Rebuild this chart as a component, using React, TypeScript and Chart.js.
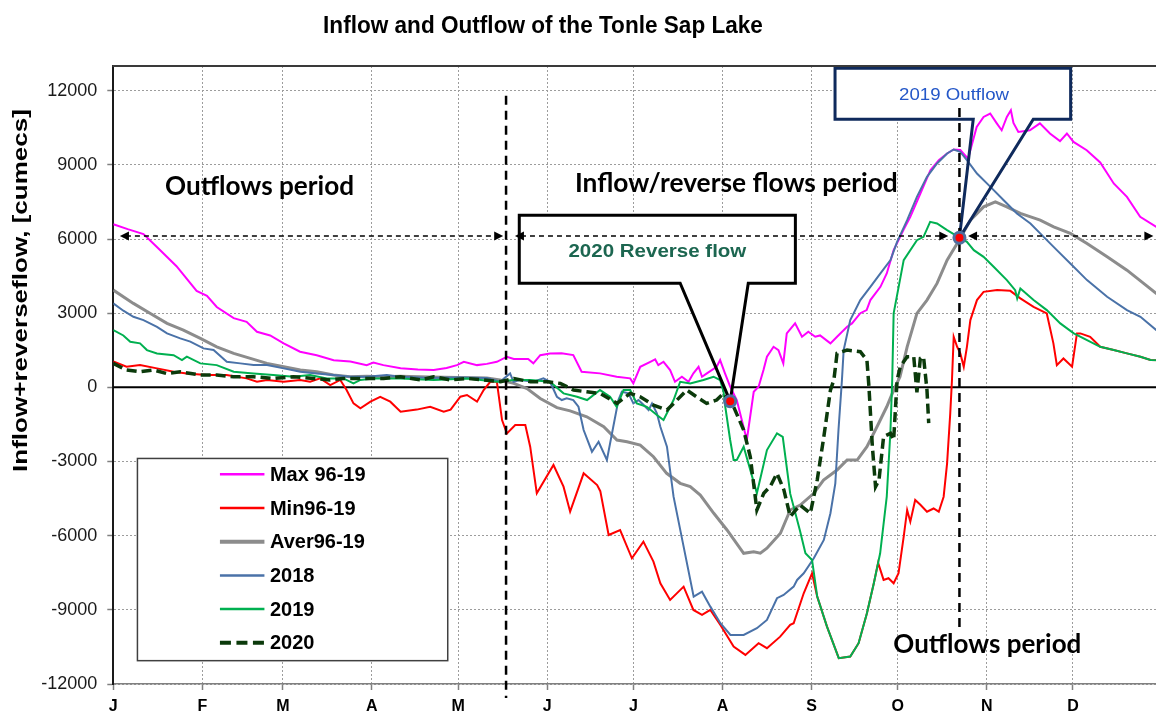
import React, { useEffect, useRef } from "react";
import { Chart, registerables } from "chart.js";

Chart.register(...registerables);

type P = [number, number];

// ---------- axis data ----------
const monthStartDays = [0, 31, 59, 90, 120, 151, 181, 212, 243, 273, 304, 334];
const monthLabels = ["J", "F", "M", "A", "M", "J", "J", "A", "S", "O", "N", "D"];
const yTickValues = [-12000, -9000, -6000, -3000, 0, 3000, 6000, 9000, 12000];
const seriesNames = ["Max 96-19", "Min96-19", "Aver96-19", "2018", "2019", "2020"];

// ---------- series (day of year, cumecs) ----------
const max9619: P[] = [
  [0, 6600], [5, 6400], [10.5, 6200], [15, 5700], [22, 4900], [29, 3900], [32.6, 3700], [36, 3250],
  [41.9, 2800], [46.4, 2650], [50, 2250], [54.6, 2100], [59.3, 1780], [65, 1440], [70.8, 1300],
  [76.7, 1100], [82.5, 1050], [88.2, 900], [90.5, 1000], [94, 900], [100, 770], [106, 720],
  [111.5, 700], [116, 780], [119.6, 900], [122, 1030], [126.6, 900], [130, 950], [133.5, 1035],
  [137, 1240], [139.4, 1150], [144.4, 1150], [146.2, 970], [148.6, 1300], [152, 1374], [156, 1380],
  [160.1, 1306], [163, 630], [169.4, 566], [175.2, 430], [179.9, 364], [181, 160], [183.4, 833],
  [186.9, 1035], [188.6, 1130], [189.7, 900], [191.5, 1035], [193.8, 700], [195.5, 226], [197.9, 430],
  [200.2, 226], [201.9, 566], [203.7, 833], [204.9, 430], [206.6, 566], [210, 833], [211.2, 1104],
  [212.9, 566], [214.7, 27], [217, -513], [220.5, -2130], [222.9, -177], [224.6, 27], [226.3, 700],
  [227.5, 1237], [229.8, 1641], [231.5, 1508], [233.2, 970], [234.4, 2183], [237.3, 2587],
  [239.7, 2046], [241.9, 2248], [244.3, 2046], [246, 2100], [249.6, 1780], [251.9, 2046],
  [255.4, 2450], [257.1, 2587], [260, 3000], [262.2, 3125], [263.5, 3530], [267, 4067], [269.2, 4609],
  [271.6, 5551], [275, 6360], [277.4, 6897], [280.9, 7843], [284.4, 8785], [287.3, 9190],
  [290.2, 9461], [292.5, 9623], [294.8, 9600], [297.5, 9250], [300.5, 10536], [302.9, 10940],
  [305.2, 11077], [307.5, 10680], [309.2, 10400], [311, 10940], [312.4, 11211], [313.3, 10700],
  [315, 10330], [319, 10400], [322.5, 10680], [326, 10270], [329.5, 9960], [331.9, 10270],
  [334.2, 9930], [338.8, 9594], [343.5, 9100], [348.2, 8248], [352.8, 7706], [357.4, 6897],
  [363, 6493], [365, 6400],
];

const min9619: P[] = [
  [0, 1050], [4.6, 833], [9.3, 900], [15.2, 768], [21, 630], [25.6, 560], [32.5, 497], [39.4, 500],
  [46.4, 364], [50, 226], [53.5, 300], [59.3, 230], [65, 300], [68.5, 230], [72, 364], [75.5, 93],
  [79, 300], [81.2, -110], [83.6, -647], [86, -850], [89.5, -580], [92.9, -380], [96.4, -580],
  [100, -985], [105.6, -900], [110.3, -785], [115, -985], [117.4, -900], [120.8, -380], [123.1, -310],
  [126.6, -580], [128.9, -110], [131.2, 226], [133.5, 226], [135.3, -1322], [137, -1860],
  [139.9, -1524], [143.4, -1524], [145.1, -2400], [147.4, -4285], [153.2, -3141], [156.7, -4018],
  [159, -5030], [163.7, -3477], [168.4, -3950], [169.5, -4200], [172.4, -5972], [176.4, -5770],
  [180.5, -6914], [184.5, -6242], [188, -7051], [190.4, -7925], [193.8, -8600], [198.5, -8061],
  [201.9, -9004], [204.9, -9206], [207.8, -9000], [211.3, -9610], [215.9, -10488], [220, -10823],
  [224.6, -10350], [227.5, -10550], [232.1, -10084], [235.6, -9610], [236.8, -9541], [240.3, -8329],
  [243.2, -7520], [245, -8466], [248.4, -9678], [252.5, -10956], [256.5, -10890], [259.4, -10350],
  [262.3, -9137], [264.7, -7925], [266.2, -7100], [268.1, -7790], [269.8, -7720], [271.6, -7925],
  [273.3, -7520], [275.1, -6040], [276.3, -4961], [277.4, -5434], [279.1, -4556], [280.9, -4750],
  [283.2, -5030], [285.5, -4900], [287.3, -5030], [289, -4423], [290.2, -3073], [291.3, -1051],
  [291.9, 295], [292.5, 2046], [293.7, 1641], [294.8, 1374], [296, 833], [297.1, 1641], [298.3, 2721],
  [300.6, 3530], [302.9, 3865], [307.6, 3934], [312.2, 3905], [315.7, 3598], [320.3, 3259],
  [324.9, 2991], [327.2, 1779], [328.4, 900], [330.7, 1170], [333.7, 833], [335.4, 2183],
  [336.6, 2183], [340, 2046], [343.5, 1641], [348.2, 1508], [352.8, 1374], [357.5, 1237],
  [361, 1104], [365, 1100],
];

const aver9619: P[] = [
  [0, 3934], [7, 3396], [12.9, 2991], [18.7, 2587], [24.4, 2317], [30.3, 1981], [36, 1641],
  [41.9, 1374], [47.7, 1170], [53.5, 970], [59.3, 830], [65.1, 700], [70.8, 630], [76.6, 500],
  [82.4, 430], [88.2, 450], [94, 430], [99.8, 450], [110, 420], [120, 400], [130, 380], [134.6, 295],
  [139.4, 160], [144, -50], [148.6, -450], [154.4, -820], [159, -950], [164.8, -1189], [170.7, -1593],
  [175.3, -2130], [178.8, -2200], [183.4, -2333], [188, -2806], [192.6, -3477], [197.3, -3881],
  [200.8, -4018], [204.3, -4354], [209, -5094], [213.6, -5770], [219.4, -6711], [222.9, -6650],
  [225.2, -6711], [227.5, -6509], [232.2, -5903], [235.6, -4961], [239.1, -4760], [243.8, -4285],
  [247.2, -3748], [251.9, -3343], [255.4, -2939], [258.9, -2940], [262.3, -2400], [265.8, -1593],
  [269.2, -785], [271.6, -110], [273.8, 428], [276.3, 1641], [279.7, 2991], [283.2, 3530],
  [286.7, 4205], [290.2, 5147], [293.7, 5822], [298.3, 6764], [302.9, 7302], [307, 7504],
  [311, 7302], [315.7, 7035], [322.6, 6764], [327.3, 6493], [333.1, 6226], [338.9, 5822],
  [345.9, 5280], [352.8, 4742], [358.6, 4205], [363, 3800], [365, 3700],
];

const y2018: P[] = [
  [0, 3396], [3.5, 3100], [7, 2854], [10.5, 2720], [15.2, 2450], [18.7, 2183], [23.3, 1981],
  [26.8, 1850], [31.4, 1577], [34.9, 1510], [39.5, 1035], [44.2, 970], [48.8, 900], [53.5, 900],
  [59.3, 768], [65.1, 630], [70.8, 560], [76.6, 500], [82.4, 430], [88.2, 430], [95.2, 500],
  [99.8, 430], [110, 380], [120, 400], [130, 380], [134.6, 226], [138.1, 566], [139.3, 226],
  [141.6, 300], [146.3, 226], [149.7, 364], [152, 226], [154.4, -380], [156.1, -513], [157.8, -445],
  [160.1, -513], [161.9, -785], [163.7, -1726], [166.6, -2603], [168.9, -2199], [171.8, -2939],
  [175.8, -513], [177, -177], [179.3, -243], [181, -647], [182.8, -513], [184.6, -716], [186.3, -918],
  [187.5, -650], [189.2, -1051], [190.4, -1593], [192.7, -2400], [195, -4423], [198.5, -6444],
  [202, -8466], [204.9, -8264], [207.8, -8870], [211.3, -9541], [214.8, -10015], [219.4, -10015],
  [224, -9743], [227.5, -9408], [231, -8530], [233.3, -8400], [236.8, -8061], [238, -7790],
  [240.3, -7520], [243.8, -6914], [247.3, -6174], [249.6, -5094], [251.3, -3881], [252.4, -1726],
  [253.6, 295], [254.2, 1508], [256.5, 2721], [260, 3530], [263.5, 4067], [267, 4609], [270.5, 5147],
  [272.8, 5887], [276.3, 6764], [279.7, 7706], [283.2, 8515], [286.7, 9056], [290.2, 9461],
  [292.5, 9623], [294.8, 9525], [297.1, 9190], [300.6, 8652], [305.3, 8110], [309.9, 7572],
  [314.5, 7035], [319.2, 6630], [323.8, 6089], [328.4, 5551], [333.1, 5013], [338.9, 4338],
  [345.9, 3663], [352.8, 3125], [357.5, 2854], [363, 2317], [365, 2250],
];

const y2019: P[] = [
  [0, 2317], [3.5, 2100], [5.9, 1843], [9.3, 1780], [11.7, 1508], [15.2, 1374], [21, 1300],
  [23.9, 1100], [25.6, 1240], [30.3, 970], [36, 900], [41.9, 630], [48.8, 560], [55.7, 500],
  [62.7, 430], [68.5, 500], [74.3, 360], [80.1, 360], [83.6, 160], [86, 300], [90.6, 360],
  [99.9, 360], [111.5, 300], [123.2, 360], [133.5, 226], [139.4, 300], [145.2, 300], [152, 226],
  [156.7, -243], [161.4, -380], [164.9, -513], [169.4, -110], [172.9, -380], [175.2, -785],
  [177.6, -110], [179.9, -110], [182.2, -647], [185.7, -785], [189.2, -1120], [191.5, -1322],
  [195, -513], [197.3, 226], [200.8, 160], [205.4, 295], [208.9, 430], [211.2, 295], [212.4, -177],
  [213, -785], [214.7, -2130], [215.9, -2939], [217, -2939], [219.4, -2400], [224, -4285],
  [227.5, -2535], [231, -1860], [233, -2000], [235.6, -4300], [239, -5800], [240.9, -6711],
  [243.2, -6982], [245, -8466], [248.4, -9678], [252.5, -10956], [256.5, -10890], [259.4, -10350],
  [262.3, -9137], [264.7, -7925], [266.9, -6711], [269.2, -4423], [270.5, -1726], [271.1, 295],
  [271.6, 2991], [275.1, 5147], [279.7, 5955], [282, 6089], [284.3, 6695], [286.7, 6630],
  [290.2, 6360], [292.5, 6200], [297.1, 5887], [299.5, 5551], [302.9, 5280], [306.4, 4876],
  [311, 4338], [313.9, 3934], [314.6, 3598], [315.7, 4000], [320.3, 3530], [324.9, 3125],
  [329.6, 2587], [334.3, 2183], [338.9, 1913], [343.5, 1641], [348.2, 1508], [352.8, 1374],
  [357.5, 1237], [361, 1104], [365, 1100],
];

const y2020: P[] = [
  [0, 970], [4.6, 700], [9.3, 630], [14, 700], [18.6, 560], [23.3, 630], [30.3, 500], [36, 500],
  [41.9, 430], [48.8, 430], [55.7, 360], [62.7, 430], [69.6, 360], [75.4, 300], [80.1, 360],
  [87.1, 360], [94.1, 360], [100, 430], [107, 300], [111.5, 430], [117.4, 300], [123.2, 360],
  [129, 300], [134.8, 226], [139.4, 360], [145.2, 226], [151, 226], [155.6, 160], [160.2, -110],
  [164.8, -180], [169.5, -243], [175.3, -647], [179.9, -243], [183.4, -380], [188, -716],
  [192.7, -918], [196.2, -513], [199.6, -110], [203, -380], [206.5, -647], [210, -513],
  [212.4, -243], [214.7, -560], [215.9, -785], [219.4, -1726], [221.7, -2806], [224, -4961],
  [226.4, -4285], [228.7, -4000], [231, -3477], [233.4, -4150], [235.6, -5230], [239, -4758],
  [242.6, -5094], [245, -3748], [247.3, -1997], [249.6, -110], [250.8, 300], [251.9, 1374],
  [255.4, 1508], [260, 1440], [262.3, 1104], [263, 27], [264.2, -2400], [265.3, -4018],
  [266.5, -3750], [268.1, -1997], [270.5, -1860], [271.6, -2130], [272.8, 295], [273.9, 833],
  [276.3, 1237], [278.6, 1237], [279.7, -200], [280.9, 1170], [282, 1237], [283.2, -110],
  [283.8, -1450],
];

// highlighted points: 2020 reverse flow start, 2019 outflow start
const markerPoints: P[] = [[214.7, -560], [294.5, 6050]];

// ---------- annotations (data coordinates) ----------
const dividerDays = [136.7, 294.5];
const arrowLevel = 6120;
const arrowSpans: P[] = [[2.3, 135.7], [139.8, 290.6], [297.5, 362]];

// ---------- styles ----------
const ARIAL = '"Liberation Sans", Arial, Helvetica, sans-serif';
const HUMANIST = 'Lato, "Open Sans", "DejaVu Sans", sans-serif';
const seriesStyles = [
  { color: "#ff00ff", width: 2, dash: [] as number[], legendWidth: 2.5 },
  { color: "#ff0000", width: 2, dash: [] as number[], legendWidth: 2.5 },
  { color: "#8c8c8c", width: 3, dash: [] as number[], legendWidth: 4 },
  { color: "#4a72a8", width: 2, dash: [] as number[], legendWidth: 2.5 },
  { color: "#00b050", width: 2, dash: [] as number[], legendWidth: 2.5 },
  { color: "#0b3a0b", width: 3.5, dash: [10, 5], legendWidth: 4 },
];
const seriesData = [max9619, min9619, aver9619, y2018, y2019, y2020];
const MARKER_INDEX = 6;

const callouts = [
  { d1: 141.3, d2: 237.4, top: 6966, bottom: 4210, b1: 197.3, b2: 221.0, tip: 0, color: "#000000",
    text: "2020 Reverse flow", tDay: 158.4, tVal: 5287, tWidth: 178, tWeight: "bold", tColor: "#1c6650", sy: 0.9 },
  { d1: 251.2, d2: 333.2, top: 12909, bottom: 10845, b1: 299.3, b2: 320.2, tip: 1, color: "#0f2a5c",
    text: "2019 Outflow", tDay: 273.5, tVal: 11626, tWidth: 110, tWeight: "normal", tColor: "#2457c8", sy: 0.88 },
];

const periodTexts = [
  { text: "Outflows period", day: 18.0, value: 7780, width: 189 },
  { text: "Inflow/reverse flows period", day: 160.7, value: 7905, width: 323 },
  { text: "Outflows period", day: 271.5, value: -10757, width: 188 },
];

const legendBox = { d1: 8.4, d2: 116.4, top: -2876, bottom: -11056 };

function setFitFont(ctx: CanvasRenderingContext2D, text: string, weight: string, family: string, width: number) {
  ctx.font = `${weight} 100px ${family}`;
  const w = ctx.measureText(text).width || 1;
  const size = (100 * width) / w;
  ctx.font = `${weight} ${size}px ${family}`;
  return size;
}

function drawFitText(ctx: CanvasRenderingContext2D, text: string, x: number, y: number, width: number,
  weight: string, family: string, color: string, sy = 1, align: CanvasTextAlign = "left") {
  ctx.save();
  setFitFont(ctx, text, weight, family, width);
  ctx.fillStyle = color;
  ctx.textBaseline = "alphabetic";
  ctx.textAlign = align;
  ctx.translate(x, y);
  ctx.scale(1, sy);
  ctx.fillText(text, 0, 0);
  ctx.restore();
}

function arrowHead(ctx: CanvasRenderingContext2D, x: number, y: number, dir: number) {
  ctx.beginPath();
  ctx.moveTo(x, y);
  ctx.lineTo(x - dir * 9, y - 4.5);
  ctx.lineTo(x - dir * 9, y + 4.5);
  ctx.closePath();
  ctx.fill();
}

function calloutPath(ctx: CanvasRenderingContext2D, c: any, xs: any, ys: any) {
  const x1 = xs.getPixelForValue(c.d1), x2 = xs.getPixelForValue(c.d2);
  const y1 = ys.getPixelForValue(c.top), y2 = ys.getPixelForValue(c.bottom);
  const b1 = xs.getPixelForValue(c.b1), b2 = xs.getPixelForValue(c.b2);
  const tp = markerPoints[c.tip];
  const tx = xs.getPixelForValue(tp[0]), ty = ys.getPixelForValue(tp[1]);
  ctx.beginPath();
  ctx.moveTo(x1, y1);
  ctx.lineTo(x2, y1);
  ctx.lineTo(x2, y2);
  ctx.lineTo(b2, y2);
  ctx.lineTo(tx, ty);
  ctx.lineTo(b1, y2);
  ctx.lineTo(x1, y2);
  ctx.closePath();
}

const annotationPlugin = {
  id: "tonleAnnotations",
  beforeDatasetsDraw(chart: any) {
    const { ctx, chartArea: a, scales } = chart;
    const xs = scales.x, ys = scales.y;
    ctx.save();
    ctx.strokeStyle = "#000";
    ctx.lineWidth = 2;
    const y0 = ys.getPixelForValue(0);
    ctx.beginPath();
    ctx.moveTo(a.left, y0);
    ctx.lineTo(a.right, y0);
    ctx.stroke();
    ctx.fillStyle = "#ffffff";
    callouts.forEach((c) => {
      calloutPath(ctx, c, xs, ys);
      ctx.fill();
    });
    ctx.restore();
  },
  beforeDatasetDraw(chart: any, args: any) {
    if (args.index !== MARKER_INDEX) return;
    const { ctx, chartArea: a, scales } = chart;
    const xs = scales.x, ys = scales.y;
    ctx.save();
    callouts.forEach((c) => {
      calloutPath(ctx, c, xs, ys);
      ctx.strokeStyle = c.color;
      ctx.lineWidth = 3;
      ctx.lineJoin = "miter";
      ctx.stroke();
    });
    ctx.strokeStyle = "#000";
    ctx.lineWidth = 2.5;
    ctx.setLineDash([9, 6]);
    const v1 = xs.getPixelForValue(dividerDays[0]);
    ctx.beginPath();
    ctx.moveTo(v1, ys.getPixelForValue(11800));
    ctx.lineTo(v1, a.bottom + 14);
    ctx.stroke();
    const v2 = xs.getPixelForValue(dividerDays[1]);
    ctx.beginPath();
    ctx.moveTo(v2, ys.getPixelForValue(11300));
    ctx.lineTo(v2, ys.getPixelForValue(-9730));
    ctx.stroke();
    const ya = ys.getPixelForValue(arrowLevel);
    ctx.lineWidth = 1.5;
    ctx.fillStyle = "#000";
    arrowSpans.forEach(([d1, d2]) => {
      const x1 = xs.getPixelForValue(d1), x2 = xs.getPixelForValue(d2);
      ctx.setLineDash([5, 4]);
      ctx.beginPath();
      ctx.moveTo(x1 + 6, ya);
      ctx.lineTo(x2 - 6, ya);
      ctx.stroke();
      ctx.setLineDash([]);
      arrowHead(ctx, x1, ya, -1);
      arrowHead(ctx, x2, ya, 1);
    });
    ctx.restore();
  },
  afterDatasetsDraw(chart: any) {
    const { ctx, chartArea: a, scales } = chart;
    const xs = scales.x, ys = scales.y;
    ctx.save();
    ctx.strokeStyle = "#3a3a3a";
    ctx.lineWidth = 2;
    ctx.beginPath();
    ctx.moveTo(a.left - 1, a.top);
    ctx.lineTo(a.right, a.top);
    ctx.stroke();

    const lx1 = xs.getPixelForValue(legendBox.d1), lx2 = xs.getPixelForValue(legendBox.d2);
    const ly1 = ys.getPixelForValue(legendBox.top), ly2 = ys.getPixelForValue(legendBox.bottom);
    ctx.fillStyle = "#fff";
    ctx.fillRect(lx1, ly1, lx2 - lx1, ly2 - ly1);
    ctx.strokeStyle = "#404040";
    ctx.lineWidth = 1.5;
    ctx.strokeRect(lx1, ly1, lx2 - lx1, ly2 - ly1);
    const rowH = (ly2 - ly1) / seriesNames.length;
    seriesNames.forEach((name, i) => {
      const st = seriesStyles[i];
      const cy = ly1 + (i + 0.47) * rowH;
      ctx.save();
      ctx.strokeStyle = st.color;
      ctx.lineWidth = st.legendWidth;
      ctx.setLineDash(st.dash.length ? [11, 5.5] : []);
      ctx.beginPath();
      ctx.moveTo(lx1 + 82.5, cy);
      ctx.lineTo(lx1 + 127, cy);
      ctx.stroke();
      ctx.restore();
      ctx.fillStyle = "#000";
      ctx.font = `bold 20px ${ARIAL}`;
      ctx.textBaseline = "middle";
      ctx.textAlign = "left";
      ctx.fillText(name, lx1 + 132.5, cy + 1);
    });

    periodTexts.forEach((p) => {
      drawFitText(ctx, p.text, xs.getPixelForValue(p.day), ys.getPixelForValue(p.value), p.width,
        "bold", HUMANIST, "#000");
    });
    callouts.forEach((c) => {
      drawFitText(ctx, c.text, xs.getPixelForValue(c.tDay), ys.getPixelForValue(c.tVal), c.tWidth,
        c.tWeight, ARIAL, c.tColor, c.sy);
    });
    ctx.restore();
  },
  afterDraw(chart: any) {
    const { ctx } = chart;
    drawFitText(ctx, "Inflow and Outflow of the Tonle Sap Lake", 543, 32.5, 440, "bold", ARIAL, "#000", 1.03, "center");
    ctx.save();
    ctx.translate(26.7, 290.5);
    ctx.rotate(-Math.PI / 2);
    ctx.scale(1, 0.75);
    setFitFont(ctx, "Inflow+reverseflow, [cumecs]", "bold", ARIAL, 363);
    ctx.fillStyle = "#000";
    ctx.textAlign = "center";
    ctx.textBaseline = "alphabetic";
    ctx.fillText("Inflow+reverseflow, [cumecs]", 0, 0);
    ctx.restore();
  },
};

export default function App() {
  const ref = useRef<HTMLCanvasElement | null>(null);

  useEffect(() => {
    const canvas = ref.current;
    if (!canvas) return;
    const datasets: any[] = seriesData.map((d, i) => ({
      label: seriesNames[i],
      data: d.map(([x, y]) => ({ x, y })),
      borderColor: seriesStyles[i].color,
      backgroundColor: seriesStyles[i].color,
      borderWidth: seriesStyles[i].width,
      borderDash: seriesStyles[i].dash,
      pointRadius: 0,
      tension: 0,
      fill: false,
      order: 6 - i,
    }));
    datasets.push({
      label: "markers",
      data: markerPoints.map(([x, y]) => ({ x, y })),
      showLine: false,
      pointRadius: 5.5,
      pointBackgroundColor: "#ff0000",
      pointBorderColor: "#4f6f9f",
      pointBorderWidth: 3,
      order: 0,
      clip: false,
    });

    const chart = new Chart(canvas, {
      type: "line",
      data: { datasets },
      options: {
        responsive: false,
        animation: false,
        events: [],
        layout: { autoPadding: false, padding: { top: 66, left: 0, right: 0, bottom: 0 } },
        plugins: { legend: { display: false }, title: { display: false }, tooltip: { enabled: false } },
        scales: {
          x: {
            type: "linear",
            min: 0,
            max: 365,
            afterBuildTicks: (scale: any) => {
              scale.ticks = monthStartDays.map((v) => ({ value: v }));
            },
            afterFit: (scale: any) => {
              scale.height = 29;
            },
            ticks: {
              autoSkip: false,
              maxRotation: 0,
              padding: 7,
              color: "#000",
              font: { family: ARIAL, size: 16, weight: "bold" },
              callback: (value: any) => {
                const i = monthStartDays.indexOf(Number(value));
                return i >= 0 ? monthLabels[i] : "";
              },
            },
            grid: { color: "#9c9c9c", lineWidth: 1, tickLength: 6, tickColor: "#808080", tickWidth: 1.5 },
            border: { color: "#808080", width: 1.5, dash: [2, 2] },
          },
          y: {
            type: "linear",
            min: -12000,
            max: 13000,
            afterBuildTicks: (scale: any) => {
              scale.ticks = yTickValues.map((v) => ({ value: v }));
            },
            afterFit: (scale: any) => {
              scale.width = 113.3;
            },
            ticks: {
              padding: 10,
              color: "#1a1a1a",
              font: { family: ARIAL, size: 18 },
              callback: (value: any) => String(value),
            },
            grid: { color: "#9c9c9c", lineWidth: 1, tickLength: 6, tickColor: "#808080", tickWidth: 1.5 },
            border: { color: "#1a1a1a", width: 2, dash: [2, 2] },
          },
        },
      } as any,
      plugins: [annotationPlugin as any],
    });
    return () => chart.destroy();
  }, []);

  return (
    <div style={{ position: "fixed", left: 0, top: 0, width: 1156, height: 713, overflow: "hidden", background: "#fff" }}>
      <canvas ref={ref} width={1162} height={713} style={{ display: "block" }} />
    </div>
  );
}
